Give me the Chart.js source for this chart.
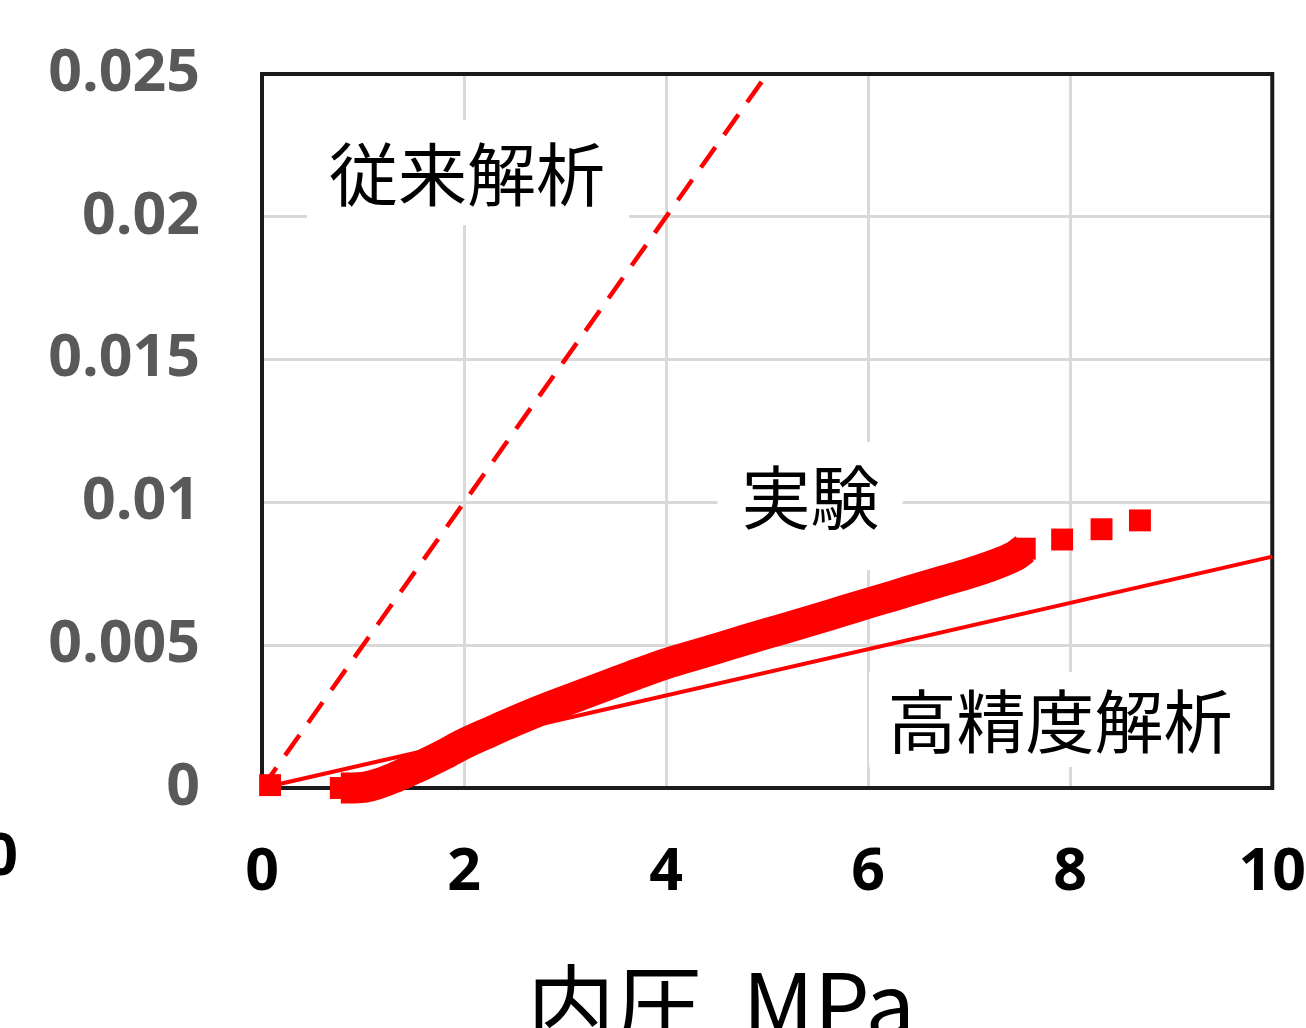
<!DOCTYPE html>
<html>
<head>
<meta charset="utf-8">
<script src="https://cdn.jsdelivr.net/npm/chart.js@4/dist/chart.umd.min.js"></script>
<style>
  html, body { margin: 0; padding: 0; background: #ffffff; }
  #wrap { width: 1306px; height: 1028px; position: relative; overflow: hidden; }
  canvas { display: block; }
</style>
</head>
<body>
<div id="wrap"><canvas id="chart" width="1306" height="1028"></canvas></div>
<script>
// Internal pressure (MPa) vs. strain
const xTickValues = [0, 2, 4, 6, 8, 10];
const xTickLabels = ['0', '2', '4', '6', '8', '10'];
const yTickValues = [0, 0.005, 0.01, 0.015, 0.02, 0.025];
const yTickLabels = ['0', '0.005', '0.01', '0.015', '0.02', '0.025'];

// 従来解析 (conventional analysis)
const convPressure = [0, 5];
const convStrain = [0, 0.025];

// 高精度解析 (high-precision analysis)
const precPressure = [0, 10];
const precStrain = [0, 0.0081];

// 実験 (measured, continuous record)
const expPressure = [0.78, 0.9, 1.02, 1.15, 1.3, 1.45, 1.6, 1.8, 2.0, 2.25, 2.5, 2.75,
  3.0, 3.25, 3.5, 3.75, 4.0, 4.25, 4.5, 4.75, 5.0, 5.25, 5.5, 5.75,
  6.0, 6.25, 6.5, 6.75, 7.0, 7.25, 7.45, 7.55];
const expStrain = [0, 0, 0.00003, 0.00015, 0.00035, 0.00058, 0.00082, 0.00117, 0.00155, 0.00195, 0.00234, 0.00271,
  0.00305, 0.00338, 0.00371, 0.00404, 0.00435, 0.00462, 0.00488, 0.00515, 0.00541, 0.00567, 0.00593, 0.0062,
  0.00647, 0.00673, 0.007, 0.00726, 0.00752, 0.00782, 0.00812, 0.00838];

// 実験 (separate readings)
const expPointPressure = [0.08, 7.92, 8.31, 8.69];
const expPointStrain = [0.0001, 0.0087, 0.00906, 0.00937];

const RED = '#ff0000';
const toXY = (xs, ys) => xs.map((x, i) => ({ x, y: ys[i] }));

// Text boxes placed in data space, with white fill behind the text
const notes = [
  { text: '従来解析', x: 2.03, y: 0.02146, box: [-160, 162, -55, 50] },
  { text: '実験', x: 5.43, y: 0.01015, box: [-93, 92, -56, 72] },
  { text: '高精度解析', x: 7.90, y: 0.00231, box: [-191, 191, -50, 45] }
];

const notesPlugin = {
  id: 'notes',
  beforeDatasetsDraw(chart) {
    const { ctx, chartArea, scales } = chart;
    ctx.save();
    notes.forEach(n => {
      const px = scales.x.getPixelForValue(n.x);
      const py = scales.y.getPixelForValue(n.y);
      ctx.fillStyle = '#ffffff';
      ctx.fillRect(px + n.box[0], py + n.box[2], n.box[1] - n.box[0], n.box[3] - n.box[2]);
      ctx.fillStyle = '#000000';
      ctx.font = '69px "Noto Sans CJK JP"';
      ctx.textAlign = 'center';
      ctx.textBaseline = 'middle';
      ctx.fillText(n.text, px, py);
    });
    // plot frame
    ctx.strokeStyle = '#1a1a1a';
    ctx.lineWidth = 4;
    ctx.strokeRect(chartArea.left, chartArea.top, chartArea.right - chartArea.left, chartArea.bottom - chartArea.top);
    ctx.restore();
  },
  afterDraw(chart) {
    const { ctx, chartArea } = chart;
    ctx.save();
    // axis title
    ctx.fillStyle = '#000000';
    ctx.font = '88px "Noto Sans CJK JP"';
    ctx.textAlign = 'center';
    ctx.textBaseline = 'alphabetic';
    ctx.fillText('内圧  MPa', chartArea.left + 459, chartArea.bottom + 250);
    // neighbouring axis label at the left edge
    ctx.font = 'bold 59px "Open Sans"';
    ctx.textAlign = 'right';
    ctx.textBaseline = 'middle';
    ctx.fillText('0', 18, chartArea.bottom + 70);
    ctx.restore();
  }
};

new Chart(document.getElementById('chart'), {
  type: 'scatter',
  data: {
    datasets: [
      {
        label: '従来解析',
        data: toXY(convPressure, convStrain),
        showLine: true,
        borderColor: RED,
        borderWidth: 4.5,
        borderDash: [25, 15],
        pointRadius: 0,
        clip: false,
        order: 3
      },
      {
        label: '高精度解析',
        data: toXY(precPressure, precStrain),
        showLine: true,
        borderColor: RED,
        borderWidth: 4,
        pointRadius: 0,
        clip: false,
        order: 2
      },
      {
        label: '実験',
        data: toXY(expPressure, expStrain),
        showLine: true,
        borderColor: RED,
        backgroundColor: RED,
        borderWidth: 31,
        borderJoinStyle: 'round',
        tension: 0.3,
        pointStyle: 'rect',
        pointRadius: 15.5,
        pointBorderWidth: 0,
        pointBackgroundColor: RED,
        clip: false,
        order: 1
      },
      {
        label: '実験',
        data: toXY(expPointPressure, expPointStrain),
        showLine: false,
        pointStyle: 'rect',
        pointRadius: 15.5,
        pointBorderWidth: 0,
        pointBackgroundColor: RED,
        clip: false,
        order: 0
      }
    ]
  },
  options: {
    responsive: false,
    animation: false,
    devicePixelRatio: 1,
    layout: { padding: { left: 0, top: 74, right: 33, bottom: 0 } },
    plugins: { legend: { display: false }, tooltip: { enabled: false } },
    scales: {
      x: {
        type: 'linear',
        min: 0,
        max: 10,
        afterFit: s => { s.height = 240; },
        afterBuildTicks: s => { s.ticks = xTickValues.map(v => ({ value: v })); },
        ticks: {
          callback: (v, i) => xTickLabels[i],
          color: '#000000',
          // tall line box keeps the labels clear of the axis without side padding
          font: { family: 'Open Sans', size: 59, weight: 'bold', lineHeight: 2.88 },
          padding: 0,
          maxRotation: 0,
          autoSkip: false
        },
        grid: { color: '#d9d9d9', lineWidth: 3, drawTicks: false },
        border: { display: false }
      },
      y: {
        type: 'linear',
        min: 0,
        max: 0.025,
        afterFit: s => { s.width = 262; },
        afterBuildTicks: s => { s.ticks = yTickValues.map(v => ({ value: v })); },
        ticks: {
          callback: (v, i) => yTickLabels[i],
          color: '#595959',
          font: { family: 'Open Sans', size: 59, weight: 'bold', lineHeight: 0.35 },
          padding: 62,
          autoSkip: false
        },
        grid: { color: '#d9d9d9', lineWidth: 3, drawTicks: false },
        border: { display: false }
      }
    }
  },
  plugins: [notesPlugin]
});
</script>
</body>
</html>
